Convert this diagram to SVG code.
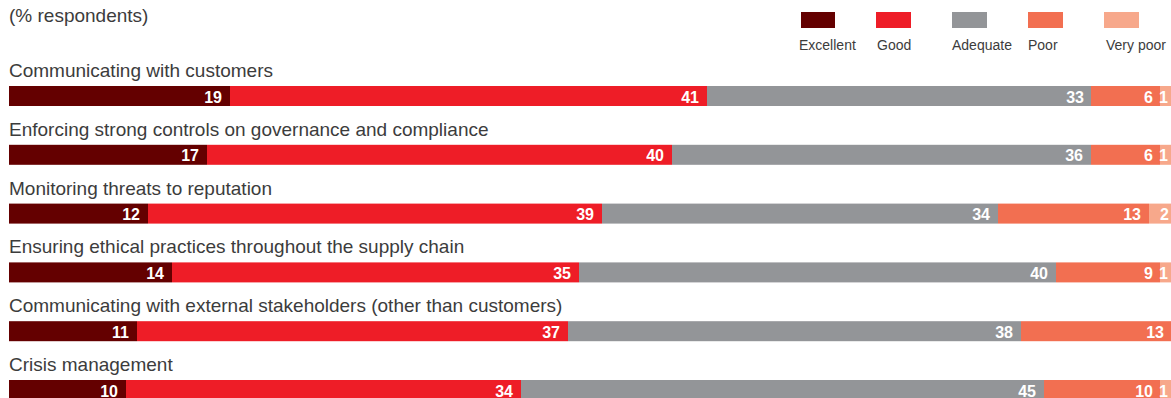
<svg xmlns="http://www.w3.org/2000/svg" width="1171" height="398" viewBox="0 0 1171 398">
<style>
.lbl{font-family:"Liberation Sans",Arial,sans-serif;font-size:19px;fill:#3c3c3c}
.leg{font-family:"Liberation Sans",Arial,sans-serif;font-size:14px;fill:#3c3c3c}
.v{font-family:"Liberation Sans",Arial,sans-serif;font-size:16px;font-weight:bold;fill:#ffffff;text-anchor:end}
.ex{fill:#640000}.gd{fill:#ee1d27}.ad{fill:#939598}.pr{fill:#f26f51}.vp{fill:#f7a88b}
</style>
<rect width="1171" height="398" fill="#ffffff"/>
<text class="lbl" x="9" y="22">(% respondents)</text>
<g id="legend">
<rect class="ex" x="801" y="12" width="34" height="16"/>
<rect class="gd" x="876" y="12" width="35" height="16"/>
<rect class="ad" x="952" y="12" width="35" height="16"/>
<rect class="pr" x="1028" y="12" width="35" height="16"/>
<rect class="vp" x="1104" y="12" width="35" height="16"/>
<text class="leg" x="799" y="50">Excellent</text>
<text class="leg" x="877" y="50">Good</text>
<text class="leg" x="952" y="50">Adequate</text>
<text class="leg" x="1028" y="50">Poor</text>
<text class="leg" x="1106" y="50">Very poor</text>
</g>
<g id="row1">
<text class="lbl" x="9" y="77">Communicating with customers</text>
<rect class="ex" x="9" y="86" width="221" height="20"/>
<rect class="gd" x="230" y="86" width="477" height="20"/>
<rect class="ad" x="707" y="86" width="384" height="20"/>
<rect class="pr" x="1091" y="86" width="69" height="20"/>
<rect class="vp" x="1160" y="86" width="12" height="20"/>
<text class="v" x="222" y="102.5">19</text>
<text class="v" x="699" y="102.5">41</text>
<text class="v" x="1084" y="102.5">33</text>
<text class="v" x="1153" y="102.5">6</text>
<text class="v" x="1168" y="102.5">1</text>
</g>
<g id="row2">
<text class="lbl" x="9" y="135.8">Enforcing strong controls on governance and compliance</text>
<rect class="ex" x="9" y="144.8" width="198" height="20"/>
<rect class="gd" x="207" y="144.8" width="465" height="20"/>
<rect class="ad" x="672" y="144.8" width="419" height="20"/>
<rect class="pr" x="1091" y="144.8" width="69" height="20"/>
<rect class="vp" x="1160" y="144.8" width="12" height="20"/>
<text class="v" x="199" y="161.3">17</text>
<text class="v" x="664" y="161.3">40</text>
<text class="v" x="1083" y="161.3">36</text>
<text class="v" x="1153" y="161.3">6</text>
<text class="v" x="1168" y="161.3">1</text>
</g>
<g id="row3">
<text class="lbl" x="9" y="194.6">Monitoring threats to reputation</text>
<rect class="ex" x="9" y="203.6" width="139" height="20"/>
<rect class="gd" x="148" y="203.6" width="454" height="20"/>
<rect class="ad" x="602" y="203.6" width="396" height="20"/>
<rect class="pr" x="998" y="203.6" width="151" height="20"/>
<rect class="vp" x="1149" y="203.6" width="23" height="20"/>
<text class="v" x="140" y="220.1">12</text>
<text class="v" x="594" y="220.1">39</text>
<text class="v" x="990" y="220.1">34</text>
<text class="v" x="1141" y="220.1">13</text>
<text class="v" x="1169" y="220.1">2</text>
</g>
<g id="row4">
<text class="lbl" x="9" y="253.4">Ensuring ethical practices throughout the supply chain</text>
<rect class="ex" x="9" y="262.4" width="163" height="20"/>
<rect class="gd" x="172" y="262.4" width="407" height="20"/>
<rect class="ad" x="579" y="262.4" width="477" height="20"/>
<rect class="pr" x="1056" y="262.4" width="104" height="20"/>
<rect class="vp" x="1160" y="262.4" width="12" height="20"/>
<text class="v" x="164" y="278.9">14</text>
<text class="v" x="571" y="278.9">35</text>
<text class="v" x="1048" y="278.9">40</text>
<text class="v" x="1153" y="278.9">9</text>
<text class="v" x="1168" y="278.9">1</text>
</g>
<g id="row5">
<text class="lbl" x="9" y="312.2">Communicating with external stakeholders (other than customers)</text>
<rect class="ex" x="9" y="321.2" width="128" height="20"/>
<rect class="gd" x="137" y="321.2" width="431" height="20"/>
<rect class="ad" x="568" y="321.2" width="453" height="20"/>
<rect class="pr" x="1021" y="321.2" width="151" height="20"/>
<text class="v" x="129" y="337.7">11</text>
<text class="v" x="560" y="337.7">37</text>
<text class="v" x="1013" y="337.7">38</text>
<text class="v" x="1164" y="337.7">13</text>
</g>
<g id="row6">
<text class="lbl" x="9" y="371">Crisis management</text>
<rect class="ex" x="9" y="380" width="117" height="20"/>
<rect class="gd" x="126" y="380" width="395" height="20"/>
<rect class="ad" x="521" y="380" width="523" height="20"/>
<rect class="pr" x="1044" y="380" width="116" height="20"/>
<rect class="vp" x="1160" y="380" width="12" height="20"/>
<text class="v" x="118" y="396.5">10</text>
<text class="v" x="513" y="396.5">34</text>
<text class="v" x="1036" y="396.5">45</text>
<text class="v" x="1153" y="396.5">10</text>
<text class="v" x="1168" y="396.5">1</text>
</g>
<g id="connectors"/>
</svg>
